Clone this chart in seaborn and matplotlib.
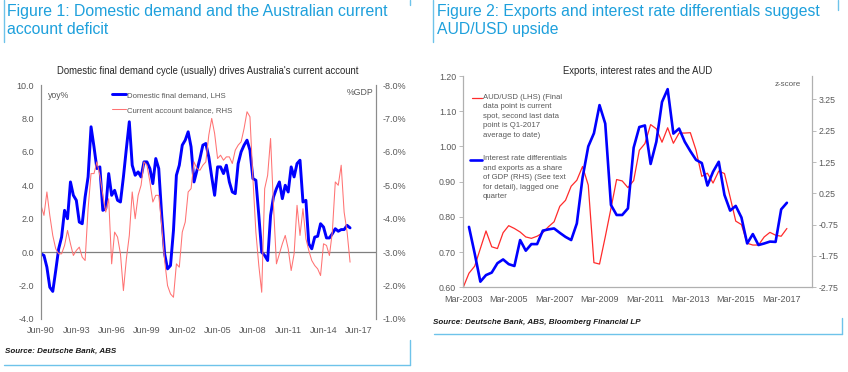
import numpy as np
import pandas as pd
import seaborn as sns
import matplotlib.pyplot as plt
from matplotlib.lines import Line2D

sns.set_style('white')
plt.rcParams['font.family'] = ['Liberation Sans', 'DejaVu Sans']
plt.rcParams['axes.unicode_minus'] = False

# ---- Figure 1: quarterly from Jun-90 ----
dfd_yoy = [-0.1, -0.2, -0.9, -2.1, -2.35, -1.1, 0.2, 0.9, 2.5, 2.0,
           4.2, 3.4, 3.1, 1.8, 1.7, 3.3, 4.5, 7.5, 6.3, 5.0,
           5.1, 2.5, 2.6, 4.7, 3.4, 3.7, 3.1, 3.0, 4.5, 6.2,
           7.8, 5.2, 4.6, 4.8, 4.5, 5.4, 5.4, 5.0, 4.1, 5.6,
           5.0, 2.2, -0.1, -1.0, -0.8, 1.3, 4.6, 5.2, 6.4, 6.7,
           7.2, 6.3, 4.2, 4.9, 5.6, 6.4, 6.5, 5.7, 4.5, 3.4,
           5.1, 5.1, 4.7, 5.2, 4.2, 3.6, 3.5, 5.3, 6.0, 6.4,
           6.7, 6.1, 4.4, 4.3, 2.2, 0.0, -0.2, -0.5, 2.2, 3.3,
           3.8, 4.2, 3.2, 4.0, 3.6, 5.1, 4.5, 5.3, 5.5, 3.0,
           3.1, 0.5, 0.2, 0.9, 0.95, 1.7, 1.5, 0.85, 0.85, 1.1,
           1.4, 1.25, 1.35, 1.35, 1.6, 1.45]
cab_gdp = [-4.4, -4.1, -4.8, -4.1, -3.5, -3.1, -2.95, -2.95, -3.2, -3.65,
           -3.25, -2.9, -3.05, -3.15, -2.85, -2.75, -4.3, -5.35, -5.35, -5.7,
           -5.3, -4.7, -4.2, -4.6, -2.65, -3.6, -3.45, -2.95, -1.85, -2.8,
           -3.5, -4.8, -4.0, -4.7, -5.0, -5.7, -5.6, -5.1, -4.5, -4.7,
           -4.7, -3.8, -2.75, -2.0, -1.75, -1.65, -2.65, -2.55, -3.6, -3.9,
           -4.8, -4.9, -5.7, -5.5, -5.45, -5.6, -5.7, -6.5, -7.0, -6.55,
           -5.8, -5.9, -5.75, -5.85, -5.85, -5.65, -6.05, -6.2, -6.3, -6.7,
           -7.2, -7.05, -5.2, -3.6, -2.6, -1.8, -4.9, -5.3, -6.4, -4.4,
           -2.65, -2.95, -3.25, -3.5, -3.1, -2.45, -2.95, -4.4, -3.5, -4.3,
           -3.4, -3.05, -2.75, -2.6, -2.5, -2.3, -3.25, -3.2, -2.9, -3.6,
           -5.1, -5.0, -5.6, -4.2, -3.6, -2.7]
fig1_xticks = ['1990-06-01', '1993-06-01', '1996-06-01', '1999-06-01', '2002-06-01',
               '2005-06-01', '2008-06-01', '2011-06-01', '2014-06-01', '2017-06-01']
fig1_xlabels = ['Jun-90', 'Jun-93', 'Jun-96', 'Jun-99', 'Jun-02',
                'Jun-05', 'Jun-08', 'Jun-11', 'Jun-14', 'Jun-17']

# ---- Figure 2: quarterly from Mar-2003 ----
aud_usd = [0.60, 0.64, 0.66, 0.71, 0.76, 0.715, 0.71, 0.755, 0.775, 0.767,
           0.757, 0.743, 0.739, 0.745, 0.755, 0.772, 0.786, 0.83, 0.847, 0.887,
           0.904, 0.943, 0.89, 0.67, 0.666, 0.743, 0.824, 0.906, 0.902, 0.883,
           0.903, 0.989, 1.008, 1.062, 1.05, 1.012, 1.053, 1.009, 1.038, 1.038,
           1.039, 0.989, 0.915, 0.924, 0.896, 0.93, 0.923, 0.856, 0.788, 0.778,
           0.725, 0.72, 0.72, 0.743, 0.756, 0.748, 0.745, 0.767]
# z-score, lagged one quarter -> starts Jun-2003
rate_exp_z = [-0.82, -1.67, -2.57, -2.36, -2.28, -1.98, -1.86, -2.01, -2.07, -1.24,
              -1.58, -1.37, -1.37, -0.94, -0.90, -0.87, -1.01, -1.14, -1.24, -0.71,
              0.75, 1.75, 2.17, 3.07, 2.48, -0.12, -0.44, -0.44, -0.23, 1.71,
              2.37, 2.42, 1.19, 1.90, 3.17, 3.58, 2.16, 2.32, 1.90, 1.60,
              1.32, 1.22, 0.50, 0.94, 1.26, 0.20, -0.30, -0.15, -0.52, -1.35,
              -1.05, -1.40, -1.35, -1.29, -1.30, -0.26, -0.05]
fig2_xticks = ['2003-03-01', '2005-03-01', '2007-03-01', '2009-03-01',
               '2011-03-01', '2013-03-01', '2015-03-01', '2017-03-01']
fig2_xlabels = ['Mar-2003', 'Mar-2005', 'Mar-2007', 'Mar-2009',
                'Mar-2011', 'Mar-2013', 'Mar-2015', 'Mar-2017']

W, H = 848, 372
title_blue = '#1ea0dc'
frame_blue = '#6ec3ea'
tick_col = '#595959'
axis_col = '#8c8c8c'

def fx(x):
    return x / W

def fy(y):
    return 1 - y / H

fig = plt.figure(figsize=(W / 100, H / 100), dpi=100)

# ------------------ Figure 1 ------------------
df1 = pd.DataFrame({'date': pd.date_range('1990-06-01', periods=len(dfd_yoy), freq='3MS'),
                    'dfd': dfd_yoy, 'cab': cab_gdp})
ax1 = fig.add_axes([fx(41), fy(319), fx(376) - fx(41), fy(85) - fy(319)])
ax1b = ax1.twinx()
sns.lineplot(data=df1, x='date', y='dfd', ax=ax1, color='#0000ff', lw=2.1)
sns.lineplot(data=df1, x='date', y='cab', ax=ax1b, color='#ff7373', lw=0.75)
ax1.axhline(0, color='#7f7f7f', lw=0.9, zorder=0)

ax1.set_ylim(-4, 10)
ax1.set_yticks(np.arange(-4, 10.1, 2))
ax1.set_yticklabels([f'{v:.1f}' for v in np.arange(-4, 10.1, 2)])
ax1b.set_ylim(-1, -8)
ax1b.set_yticks(np.arange(-8, -0.9, 1))
ax1b.set_yticklabels([f'{v:.1f}%' for v in np.arange(-8, -0.9, 1)])
ax1.set_xlim(pd.Timestamp('1990-06-01'), pd.Timestamp('2018-11-15'))
ax1.set_xticks(pd.to_datetime(fig1_xticks))
ax1.set_xticklabels(fig1_xlabels)
for a in (ax1, ax1b):
    a.set_xlabel('')
    a.set_ylabel('')
    a.spines['top'].set_visible(False)
    a.spines['bottom'].set_visible(False)
    a.spines['left'].set_color(axis_col)
    a.spines['right'].set_color(axis_col)
    a.spines['left'].set_linewidth(0.8)
    a.spines['right'].set_linewidth(0.8)
    a.tick_params(axis='y', length=0, pad=5, labelsize=6.5, labelcolor=tick_col)
    a.tick_params(axis='x', length=0, pad=5, labelsize=6.5, labelcolor=tick_col)

ax1.text(0.021, 0.957, 'yoy%', transform=ax1.transAxes, fontsize=6.3, color=tick_col, va='center')
ax1b.text(0.994, 0.969, '%GDP', transform=ax1b.transAxes, fontsize=6.3, color=tick_col,
          va='center', ha='right')
ax1b.legend([ax1.get_lines()[0], ax1b.get_lines()[0]],
            ['Domestic final demand, LHS', 'Current account balance, RHS'],
            loc='upper left', bbox_to_anchor=(0.212, 0.972), frameon=False,
            fontsize=5.6, labelcolor=tick_col, handlelength=1.8, handletextpad=0.1,
            borderpad=0, borderaxespad=0, labelspacing=1.0)

fig.text(fx(7), fy(4), 'Figure 1: Domestic demand and the Australian current\naccount deficit',
         fontsize=11.4, color=title_blue, va='top', ha='left', linespacing=1.22)
fig.text(fx(208), fy(71), "Domestic final demand cycle (usually) drives Australia's current account",
         fontsize=6.85, color='#262626', ha='center', va='center')
fig.text(fx(5), fy(351), 'Source: Deutsche Bank, ABS', fontsize=5.8, style='italic',
         weight='bold', color='#1a1a1a', va='center')

# ------------------ Figure 2 ------------------
df2a = pd.DataFrame({'date': pd.date_range('2003-03-01', periods=len(aud_usd), freq='3MS'),
                     'aud': aud_usd})
df2b = pd.DataFrame({'date': pd.date_range('2003-06-01', periods=len(rate_exp_z), freq='3MS'),
                     'z': rate_exp_z})
ax2 = fig.add_axes([fx(463), fy(287.3), fx(811.7) - fx(463), fy(76) - fy(287.3)])
ax2b = ax2.twinx()
sns.lineplot(data=df2a, x='date', y='aud', ax=ax2, color='#ff2b2b', lw=0.9)
sns.lineplot(data=df2b, x='date', y='z', ax=ax2b, color='#0000ff', lw=1.9)

ax2.set_ylim(0.6, 1.2)
lt = np.round(np.arange(0.6, 1.201, 0.1), 2)
ax2.set_yticks(lt)
ax2.set_yticklabels([f'{v:.2f}' for v in lt])
ax2b.set_ylim(-2.75, 4.0)
rt = np.arange(-2.75, 3.3, 1.0)
ax2b.set_yticks(rt)
ax2b.set_yticklabels([f'{v:.2f}' for v in rt])
ax2.set_xlim(pd.Timestamp('2003-02-25'), pd.Timestamp('2018-07-05'))
ax2.set_xticks(pd.to_datetime(fig2_xticks))
ax2.set_xticklabels(fig2_xlabels)
for a in (ax2, ax2b):
    a.set_xlabel('')
    a.set_ylabel('')
    a.spines['top'].set_visible(False)
    for s in ('left', 'right', 'bottom'):
        a.spines[s].set_color('#b0b0b0')
        a.spines[s].set_linewidth(0.8)
    a.tick_params(axis='y', length=3, width=0.6, color='#b0b0b0', pad=2,
                  labelsize=6.3, labelcolor=tick_col)
    a.tick_params(axis='x', length=0, pad=5.5, labelsize=6.5, labelcolor=tick_col)

ax2b.text(0.969, 0.962, 'z-score', transform=ax2b.transAxes, fontsize=5.8, color=tick_col,
          ha='right', va='center')
# legend drawn as text blocks (handles sit on first line of the label)
ax2b.plot([0.025, 0.054], [0.894, 0.894], transform=ax2b.transAxes, color='#ff2b2b', lw=0.9)
ax2b.text(0.057, 0.915, 'AUD/USD (LHS) (Final\ndata point is current\nspot, second last data\npoint is Q1-2017\naverage to date)',
          transform=ax2b.transAxes, fontsize=5.6, color=tick_col, va='top', ha='left',
          linespacing=1.5)
ax2b.plot([0.020, 0.054], [0.604, 0.604], transform=ax2b.transAxes, color='#0000ff', lw=1.9)
ax2b.text(0.057, 0.625, 'Interest rate differentials\nand exports as a share\nof GDP (RHS) (See text\nfor detail), lagged one\nquarter',
          transform=ax2b.transAxes, fontsize=5.6, color=tick_col, va='top', ha='left',
          linespacing=1.5)

fig.text(fx(437), fy(4), 'Figure 2: Exports and interest rate differentials suggest\nAUD/USD upside',
         fontsize=11.3, color=title_blue, va='top', ha='left', linespacing=1.22)
fig.text(fx(638), fy(71), 'Exports, interest rates and the AUD',
         fontsize=6.85, color='#262626', ha='center', va='center')
fig.text(fx(433), fy(322), 'Source: Deutsche Bank, ABS, Bloomberg Financial LP', fontsize=5.8,
         style='italic', weight='bold', color='#1a1a1a', va='center')

# panel frame lines
frame = [((4, 4), (0, 42)), ((4, 410), (365, 365)), ((410, 410), (340, 365)), ((410, 410), (0, 5)),
         ((433, 433), (0, 42)), ((434, 842), (334, 334)), ((842, 842), (318, 334)), ((838, 838), (0, 10))]
for xs, ys in frame:
    fig.add_artist(Line2D([fx(xs[0]), fx(xs[1])], [fy(ys[0]), fy(ys[1])],
                          transform=fig.transFigure, color=frame_blue, lw=1.0))

fig.savefig('out.png', dpi=100, facecolor='white')
